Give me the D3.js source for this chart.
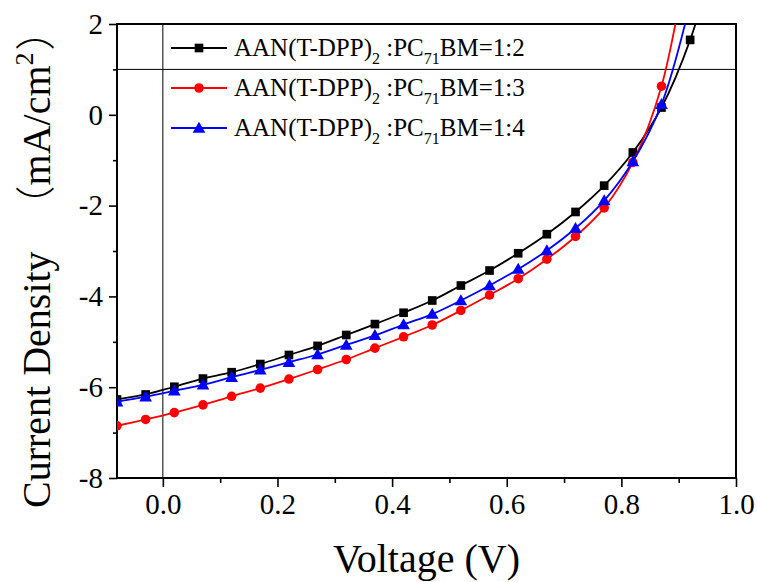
<!DOCTYPE html>
<html><head><meta charset="utf-8">
<script src="https://cdn.jsdelivr.net/npm/d3@7/dist/d3.min.js"></script>
<style>
html,body{margin:0;padding:0;background:#fff;}
svg{display:block;}
text{font-family:"Liberation Serif","Times New Roman",serif;fill:#000;}
</style></head>
<body>
<svg id="chart" width="757" height="582"></svg>
<script>
// ---- data ----
const voltage = [-0.08,-0.03,0.02,0.07,0.12,0.17,0.22,0.27,0.32,0.37,0.42,0.47,0.52,0.57,0.62,0.67,0.72,0.77,0.82,0.87,0.92,0.97];
const seriesNames = ["1:2","1:3","1:4"];
const j12 = [-6.27,-6.16,-5.99,-5.81,-5.67,-5.49,-5.29,-5.09,-4.85,-4.61,-4.36,-4.09,-3.76,-3.43,-3.05,-2.63,-2.14,-1.56,-0.83,0.16,1.65,3.8];
const j13 = [-6.85,-6.71,-6.56,-6.39,-6.20,-6.02,-5.82,-5.61,-5.39,-5.14,-4.89,-4.63,-4.31,-3.97,-3.61,-3.18,-2.68,-2.05,-1.05,0.63,3.8];
const j14 = [-6.32,-6.21,-6.08,-5.95,-5.78,-5.62,-5.45,-5.28,-5.07,-4.86,-4.62,-4.39,-4.09,-3.76,-3.40,-2.99,-2.50,-1.89,-1.03,0.23,2.45];
const colors = ["#000000","#ff0000","#0000ff"];
const symbols = ["square","circle","triangle"];
const xMajorTicks = [0.0,0.2,0.4,0.6,0.8,1.0];
const xMinorTicks = [0.1,0.3,0.5,0.7,0.9];
const yMajorTicks = [-8,-6,-4,-2,0,2];
const yMinorTicks = [-7,-5,-3,-1,1];
const xDomain = [-0.08,1.0];
const yDomain = [-8,2];
const refLineY = 1;
const refLineX = 0;

// ---- layout ----
const L=117, R=736, T=24, B=478;
const svg = d3.select("#chart");
const x = d3.scaleLinear().domain(xDomain).range([L,R]);
const y = d3.scaleLinear().domain(yDomain).range([B,T]);

svg.append("defs").append("clipPath").attr("id","clip")
  .append("rect").attr("x",L).attr("y",T).attr("width",R-L).attr("height",B-T);

// reference lines
svg.append("line").attr("x1",x(refLineX)).attr("x2",x(refLineX)).attr("y1",T).attr("y2",B)
  .attr("stroke","#000").attr("stroke-width",1);
svg.append("line").attr("x1",L).attr("x2",R).attr("y1",y(refLineY)).attr("y2",y(refLineY))
  .attr("stroke","#000").attr("stroke-width",1);

// axes
const fs = 29;
const gx = svg.append("g").attr("transform",`translate(0,${B})`)
  .call(d3.axisBottom(x).tickValues(xMajorTicks).tickFormat(d3.format(".1f")).tickSize(9).tickSizeOuter(0).tickPadding(6));
const gxm = svg.append("g").attr("transform",`translate(0,${B})`)
  .call(d3.axisBottom(x).tickValues(xMinorTicks).tickFormat("").tickSize(5).tickSizeOuter(0));
const gy = svg.append("g").attr("transform",`translate(${L},0)`)
  .call(d3.axisLeft(y).tickValues(yMajorTicks).tickFormat(d3.format("d")).tickSize(8).tickSizeOuter(0).tickPadding(6));
const gym = svg.append("g").attr("transform",`translate(${L},0)`)
  .call(d3.axisLeft(y).tickValues(yMinorTicks).tickFormat("").tickSize(4).tickSizeOuter(0));
[gx,gxm,gy,gym].forEach(g=>{
  g.select(".domain").remove();
  g.selectAll(".tick line").attr("stroke","#000").attr("stroke-width",1.6);
  g.selectAll("text").attr("font-size",fs).attr("font-family","Liberation Serif").attr("fill","#000");
});
gy.selectAll("text").text(d=> d<0 ? "-"+Math.abs(d) : d);

// frame
svg.append("rect").attr("x",L).attr("y",T).attr("width",R-L).attr("height",B-T)
  .attr("fill","none").attr("stroke","#000").attr("stroke-width",2);

// series
const data = [j12,j13,j14];
const symTypes = {square:d3.symbolSquare, circle:d3.symbolCircle, triangle:d3.symbolTriangle};
const symSizes = {square:75, circle:72, triangle:70};
const plot = svg.append("g").attr("clip-path","url(#clip)");
const line = d3.line().x(d=>x(d[0])).y(d=>y(d[1])).curve(d3.curveCatmullRom.alpha(0.5));
data.forEach((vals,i)=>{
  const pts = vals.map((v,k)=>[voltage[k],v]);
  plot.append("path").datum(pts).attr("d",line).attr("fill","none")
    .attr("stroke",colors[i]).attr("stroke-width",1.8);
  const sym = d3.symbol().type(symTypes[symbols[i]]).size(symSizes[symbols[i]]);
  plot.selectAll(null).data(pts).enter().append("path")
    .attr("d",sym)
    .attr("transform",d=>`translate(${x(d[0])},${y(d[1]) + (symbols[i]==="triangle"?1:0)})`)
    .attr("fill",colors[i]);
});

// legend
const legX1=171, legX2=227, legTextX=234;
const legRows=[48,88,128];
seriesNames.forEach((name,i)=>{
  const g = svg.append("g");
  const yy = legRows[i];
  g.append("line").attr("x1",legX1).attr("x2",legX2).attr("y1",yy).attr("y2",yy)
    .attr("stroke",colors[i]).attr("stroke-width",1.8);
  const sym = d3.symbol().type(symTypes[symbols[i]]).size(symSizes[symbols[i]]);
  g.append("path").attr("d",sym).attr("transform",`translate(${(legX1+legX2)/2},${yy+(symbols[i]==="triangle"?1:0)})`).attr("fill",colors[i]);
  const t = g.append("text").attr("x",legTextX).attr("y",yy+8).attr("font-size",25);
  t.append("tspan").text("AAN(T-DPP)");
  t.append("tspan").attr("font-size",16).attr("dy",8).text("2");
  t.append("tspan").attr("dy",-8).text(" :PC");
  t.append("tspan").attr("font-size",16).attr("dy",8).text("71");
  t.append("tspan").attr("dy",-8).text("BM="+name);
});

// axis titles
svg.append("text").attr("x",(L+R)/2).attr("y",572).attr("text-anchor","middle")
  .attr("font-size",40).text("Voltage (V)");
const yt = svg.append("text").attr("transform","translate(50,508) rotate(-90)")
  .attr("text-anchor","start").attr("font-size",40);
yt.append("tspan").text("Current Density ");
yt.append("tspan").attr("dx",16).attr("font-family","Noto Sans CJK SC").attr("font-weight",300).text("（");
yt.append("tspan").text("mA/cm");
yt.append("tspan").attr("font-size",26).attr("dy",-17).text("2");
yt.append("tspan").attr("dy",17).attr("dx",2).attr("font-family","Noto Sans CJK SC").attr("font-weight",300).text("）");
</script>
</body></html>
